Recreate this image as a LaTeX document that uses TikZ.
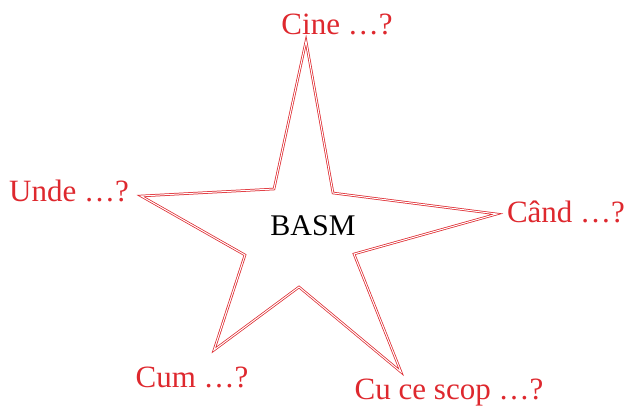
\documentclass[tikz,border=0pt]{standalone}
\usepackage{fontspec}
\setmainfont{Liberation Serif}
\definecolor{starred}{RGB}{222,40,46}
\tikzset{
  qlabel/.style={text=starred, anchor=base, inner sep=0pt, font=\fontsize{31}{36}\selectfont},
  clabel/.style={text=black, anchor=base, inner sep=0pt, font=\fontsize{30}{36}\selectfont},
  starline/.style={draw=starred, line width=0.75pt, double=white, double distance=1pt, line join=miter}
}
\begin{document}
\begin{tikzpicture}[x=1pt,y=-1pt]
\useasboundingbox (0,0) rectangle (627,406);
\draw[starline] (306,41) -- (333,193) -- (497,214) -- (354,254) -- (401,372) -- (299,287) -- (214,350) -- (245,255) -- (141,196) -- (274,189) -- cycle;
\node[clabel] (basm) at (313,236) {BASM};
\node[qlabel] (cine) at (337,35) {Cine …?};
\node[qlabel] (unde) at (69,202) {Unde …?};
\node[qlabel] (cand) at (566,223) {Când …?};
\node[qlabel] (cum) at (192,387) {Cum …?};
\node[qlabel] (scop) at (449,399) {Cu ce scop …?};
\end{tikzpicture}
\end{document}
